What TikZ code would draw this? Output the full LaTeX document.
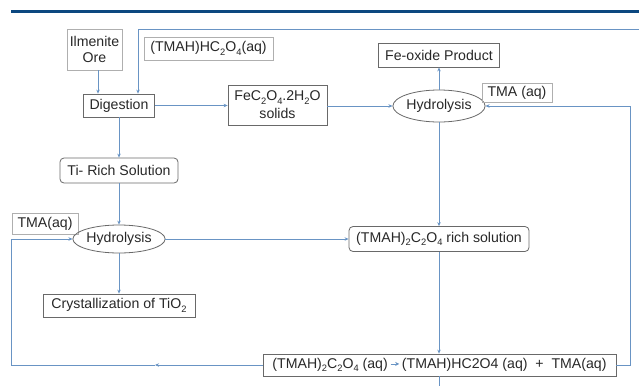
\documentclass[tikz,border=0pt]{standalone}
\usepackage{fontspec}
\setmainfont{Liberation Sans}
\usetikzlibrary{arrows.meta,shapes.geometric}
\definecolor{linec}{RGB}{105,148,196}
\definecolor{boxc}{RGB}{105,105,105}
\definecolor{lblc}{RGB}{175,175,175}
\definecolor{txtc}{RGB}{40,40,40}
\definecolor{rulec}{RGB}{12,72,128}
\newcommand\sbx[1]{\raisebox{-0.45ex}{\fontsize{7}{7}\selectfont #1}}
\begin{document}
\begin{tikzpicture}[x=0.75pt,y=-0.75pt,
  every node/.style={font=\fontsize{10.6}{12}\selectfont, text=txtc, inner sep=1pt},
  box/.style={draw=boxc, line width=0.6pt, rectangle},
  lbl/.style={draw=lblc, line width=0.6pt, rectangle},
  rbox/.style={draw=boxc, line width=0.6pt, rectangle, rounded corners=3pt},
  ell/.style={draw=boxc, line width=0.6pt, ellipse, inner sep=0pt},
  conn/.style={draw=linec, line width=0.7pt},
  arr/.style={conn, -{Stealth[length=3pt,width=2.6pt]}}]
\useasboundingbox (0,0) rectangle (639,386);
\fill[white] (0,0) rectangle (639,386);
% top rule
\coordinate (ruleL) at (11,11.5);
\coordinate (ruleR) at (639,11.5);
\draw[rulec, line width=1.9pt] (ruleL) -- (ruleR);

% nodes
\node[lbl, minimum width=41.25pt, minimum height=30.75pt, align=center, font=\fontsize{10.6}{12}\selectfont] (ilm) at (94.5,49.5) {Ilmenite\\Ore};
\node[lbl, minimum width=96.75pt, minimum height=17.25pt] (tmah) at (208.5,48.5) {(TMAH)HC\sbx{2}O\sbx{4}(aq)};
\node[box, minimum width=53.25pt, minimum height=17.25pt] (dig) at (119,105.5) {Digestion};
\node[box, minimum width=74.25pt, minimum height=30pt, align=center, font=\fontsize{10.6}{13.5}\selectfont] (fec) at (277.5,105) {FeC\sbx{2}O\sbx{4}.2H\sbx{2}O\\solids};
\node[box, minimum width=90.75pt, minimum height=18pt] (feo) at (439,55) {Fe-oxide Product};
\node[ell, minimum width=60pt, minimum height=24pt] (hfe) at (439,106) {Hydrolysis};
\node[lbl, minimum width=52.5pt, minimum height=14.25pt] (tmaR) at (517,92.5) {TMA (aq)};
\node[rbox, minimum width=88.5pt, minimum height=18.75pt] (tir) at (119,170.5) {Ti- Rich Solution};
\node[lbl, minimum width=49.5pt, minimum height=15.75pt] (tmaL) at (45,223.5) {TMA(aq)};
\node[ell, minimum width=60pt, minimum height=21pt] (hti) at (119,239) {Hydrolysis};
\node[rbox, minimum width=135pt, minimum height=18.75pt] (rich) at (439,239) {(TMAH)\sbx{2}C\sbx{2}O\sbx{4} rich solution};
\node[box, minimum width=114pt, minimum height=17.25pt] (cry) at (119,305.5) {Crystallization of TiO\sbx{2}};
\node[box, minimum width=264.75pt, minimum height=16.5pt] (bot) at (439.5,365) {(TMAH)\sbx{2}C\sbx{2}O\sbx{4} (aq)\,\tikz[baseline=-0.6ex]\draw[draw=linec, line width=0.6pt, -{Stealth[length=3pt,width=3pt]}] (0,0) -- (6.5pt,0);\,(TMAH)HC2O4 (aq) \ + \ TMA(aq)};

% coordinates
\coordinate (xa) at (98,0);
\coordinate (xb) at (138,0);
\coordinate (fbR) at (639,29);
\coordinate (fbL) at (138,29);
\coordinate (rc1) at (630,365);
\coordinate (rc2) at (630,106);
\coordinate (lmid) at (155,365);
\coordinate (lc1) at (11,365);
\coordinate (lc2) at (11,239);
\coordinate (stub) at (439,386);

% connectors
\draw[arr] (ilm.south -| xa) -- (dig.north -| xa);
\draw[arr] (fbR) -- (fbL) -- (dig.north -| xb);
\draw[arr] (dig.east) -- (fec.west |- dig.east);
\draw[arr] (fec.east |- hfe.west) -- (hfe.west);
\draw[arr] (hfe.north) -- (feo.south);
\draw[arr] (dig.south) -- (tir.north);
\draw[arr] (tir.south) -- (hti.north);
\draw[arr] (hti.south) -- (cry.north);
\draw[arr] (hti.east) -- (rich.west);
\draw[arr] (hfe.south) -- (rich.north);
\draw[arr] (rich.south) -- (bot.north -| rich.south);
\draw[conn] (bot.south -| stub) -- (stub);
\draw[arr] (bot.east) -- (rc1) -- (rc2) -- (hfe.east);
\draw[arr] (bot.west) -- (lmid);
\draw[arr] (lmid) -- (lc1) -- (lc2) -- (hti.west);
\end{tikzpicture}
\end{document}
